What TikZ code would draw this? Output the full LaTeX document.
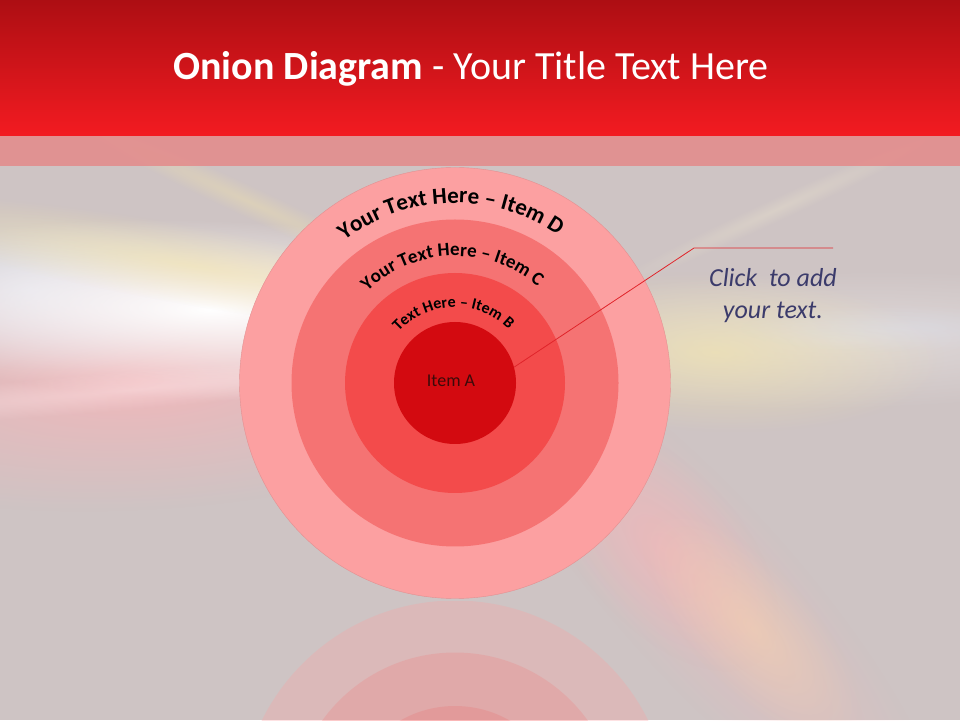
\documentclass[tikz,border=0pt]{standalone}
\usepackage{fontspec}
\setmainfont{Carlito}
\usetikzlibrary{decorations.text,fadings,calc}
\tikzfading[name=glowfade, inner color=transparent!0, outer color=transparent!100]
\definecolor{bg}{HTML}{CEC4C4}
\definecolor{headtop}{HTML}{AD0E13}
\definecolor{headbot}{HTML}{F31B21}
\definecolor{stripc}{HTML}{E48A8A}
\definecolor{ringD}{HTML}{FCA0A1}
\definecolor{ringC}{HTML}{F57373}
\definecolor{ringB}{HTML}{F34B4B}
\definecolor{ringA}{HTML}{D30A10}
\definecolor{itemtext}{HTML}{3C0A0A}
\definecolor{clicktext}{HTML}{3B3B6B}
\definecolor{callout}{HTML}{E0242A}
\definecolor{glowyellow}{HTML}{F6E7A8}
\definecolor{glowpink}{HTML}{F8B4B8}
\definecolor{gloworange}{HTML}{F7D4B0}
\definecolor{glowblue}{HTML}{DCE2F2}
\tikzset{
  ring/.style={circle, inner sep=0pt, draw=none},
  glow/.style={path fading=glowfade},
  arctext/.style={decorate, decoration={text along path, text align=center, text={#1}}},
}
\begin{document}
\begin{tikzpicture}[x=1pt,y=1pt]
\useasboundingbox (0,0) rectangle (960,720);
\fill[bg] (0,0) rectangle (960,720);
% background light streaks
\begin{scope}
\clip (0,0) rectangle (960,584);
% left fan
\begin{scope}[transform canvas={shift={(140,340)},rotate=3}]
  \fill[glowpink, glow, opacity=0.8] (0,0) ellipse (400 and 130);
\end{scope}
\begin{scope}[transform canvas={shift={(30,430)},rotate=-3}]
  \fill[glowblue, glow, opacity=0.6] (0,0) ellipse (200 and 80);
\end{scope}
\begin{scope}[transform canvas={shift={(210,410)},rotate=-2}]
  \fill[white, glow, opacity=1] (0,0) ellipse (400 and 90);
\end{scope}
\begin{scope}[transform canvas={shift={(190,455)},rotate=-10}]
  \fill[glowyellow, glow, opacity=0.55] (0,0) ellipse (340 and 40);
\end{scope}
\begin{scope}[transform canvas={shift={(130,330)},rotate=5}]
  \fill[white!60!glowpink, glow, opacity=0.5] (0,0) ellipse (380 and 20);
\end{scope}
\begin{scope}[transform canvas={shift={(250,518)},rotate=-25}]
  \fill[glowyellow, glow, opacity=0.35] (0,0) ellipse (220 and 16);
\end{scope}
% right fan
\begin{scope}[transform canvas={shift={(840,380)},rotate=1}]
  \fill[white, glow, opacity=0.35] (0,0) ellipse (400 and 70);
\end{scope}
\begin{scope}[transform canvas={shift={(715,368)},rotate=-2}]
  \fill[glowyellow, glow, opacity=0.6] (0,0) ellipse (230 and 80);
\end{scope}
\begin{scope}[transform canvas={shift={(900,392)},rotate=0}]
  \fill[glowblue, glow, opacity=0.35] (0,0) ellipse (160 and 24);
\end{scope}
\begin{scope}[transform canvas={shift={(775,510)},rotate=25}]
  \fill[white!50!glowyellow, glow, opacity=0.25] (0,0) ellipse (200 and 12);
\end{scope}
% lower right streak
\begin{scope}[transform canvas={shift={(705,130)},rotate=-48}]
  \fill[glowpink, glow, opacity=0.4] (0,0) ellipse (340 and 90);
\end{scope}
\begin{scope}[transform canvas={shift={(662,172)},rotate=-48}]
  \fill[glowpink, glow, opacity=0.5] (0,0) ellipse (150 and 80);
\end{scope}
\begin{scope}[transform canvas={shift={(752,92)},rotate=-48}]
  \fill[gloworange, glow, opacity=0.55] (0,0) ellipse (150 and 60);
\end{scope}
\end{scope}
% header
\shade[top color=headtop, bottom color=headbot] (0,584) rectangle (960,720);
\fill[stripc, opacity=0.85] (0,554) rectangle (960,584);
\node[text=white, font=\fontsize{40}{44}\selectfont, anchor=base] (title) at (471,640)
  {\textbf{Onion Diagram} - Your Title Text Here};
% reflection
\begin{scope}
\clip (0,0) rectangle (960,119);
\coordinate (rc) at (455,-96);
\node[ring, fill=ringD, opacity=0.3, minimum size=431] (rD) at (rc) {};
\node[ring, fill=ringC, opacity=0.22, minimum size=327] (rC) at (rc) {};
\node[ring, fill=ringB, opacity=0.15, minimum size=220] (rB) at (rc) {};
\end{scope}
% onion
\coordinate (c) at (455,337);
\node[ring, fill=ringD, draw=ringD!90!black, line width=0.4pt, minimum size=431] (D) at (c) {};
\node[ring, fill=ringC, minimum size=327] (C) at (c) {};
\node[ring, fill=ringB, minimum size=220] (B) at (c) {};
\node[ring, fill=ringA, minimum size=122] (A) at (c) {};
\node[text=itemtext, font=\fontsize{18}{18}\selectfont] (Alabel) at (451,339) {Item A};
\path[arctext={|\bfseries\fontsize{23}{23}\selectfont|Your Text Here – Item D}]
  ($(c)+(171.5:180)$) arc[start angle=171.5, end angle=11.5, radius=180];
\path[arctext={|\bfseries\fontsize{19}{19}\selectfont|Your Text Here – Item C}]
  ($(c)+(171.5:127)$) arc[start angle=171.5, end angle=11.5, radius=127];
\path[arctext={|\bfseries\fontsize{16}{16}\selectfont|Text Here – Item B}]
  ($(c)+(171.5:76)$) arc[start angle=171.5, end angle=11.5, radius=76];
% callout
\coordinate (elbow) at (694,472);
\coordinate (tail) at (833,472);
\draw[callout, line width=0.8pt] (A.15) -- (elbow) -- (tail);
\node[text=clicktext, align=center, font=\itshape\fontsize{26}{32}\selectfont] (click) at (773,424)
  {Click\ \ to add\\your text.};
\end{tikzpicture}
\end{document}
